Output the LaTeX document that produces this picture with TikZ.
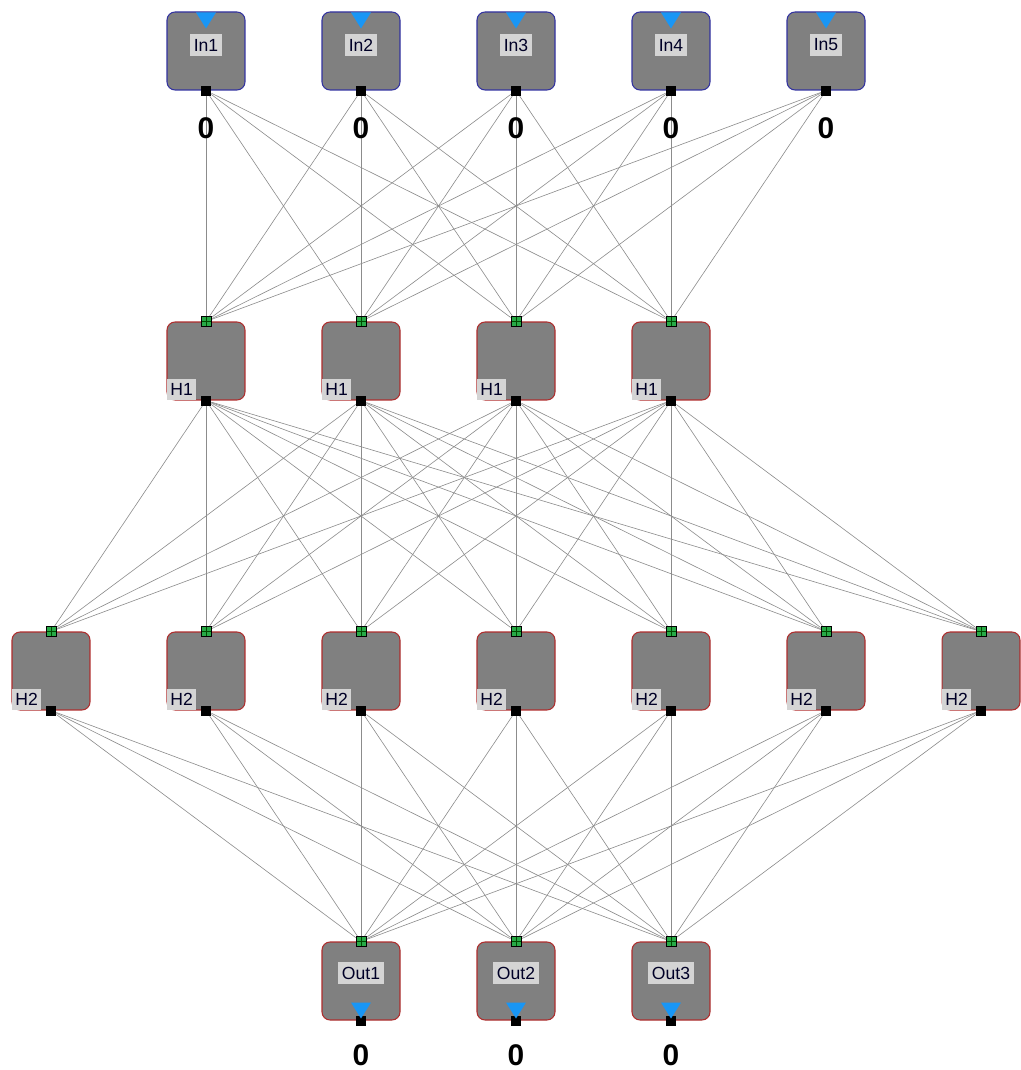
\documentclass[tikz,border=0pt]{standalone}
\usepackage{fontspec}
\setmainfont{Liberation Sans}
\usetikzlibrary{backgrounds}
\definecolor{boxgray}{RGB}{128,128,128}
\definecolor{inblue}{RGB}{50,50,160}
\definecolor{hidred}{RGB}{175,45,45}
\definecolor{tipblue}{RGB}{25,150,245}
\definecolor{tagbg}{RGB}{212,212,212}
\definecolor{portgreen}{RGB}{40,170,70}

\tikzset{
  unit/.style={draw=#1, line width=0.6pt, fill=boxgray, rounded corners=0.16cm,
    minimum size=1.56cm, inner sep=0pt},
  outport/.style={fill=black, minimum size=0.2cm, inner sep=0pt},
  inport/.style={draw=black, fill=portgreen, minimum size=0.2cm, inner sep=0pt,
    path picture={\draw[green!30!black, line width=0.5pt]
      (path picture bounding box.north) -- (path picture bounding box.south)
      (path picture bounding box.west) -- (path picture bounding box.east);}},
  tag/.style={fill=tagbg, text=black!85!blue, font=\fontsize{10}{11}\selectfont,
    inner xsep=2pt, inner ysep=2.6pt},
  value/.style={font=\fontsize{17}{18}\selectfont\bfseries},
  wire/.style={draw=black!45, line width=0.35pt},
  tip/.style={fill=tipblue}
}

\begin{document}
\begin{tikzpicture}[x=0.02cm, y=-0.02cm]
\useasboundingbox (0,0) rectangle (1020,1070);

% inputs
\foreach \i in {1,...,5} {
  \node[unit=inblue] (in\i) at (51+\i*155, 51) {};
  \fill[tip] (in\i.north) ++(-10,1) -- ++(20,0) -- ++(-10,16) -- cycle;
  \node[tag] at (51+\i*155, 45) {In\i};
  \node[outport] (ip\i) at (in\i.south) {};
  \node[value] at (51+\i*155, 128) {0};
}

% first hidden layer
\foreach \j in {1,...,4} {
  \node[unit=hidred] (ha\j) at (51+\j*155, 361) {};
  \node[tag, anchor=south west] at (ha\j.south west) {H1};
  \node[inport] (hat\j) at (ha\j.north) {};
  \node[outport] (hab\j) at (ha\j.south) {};
}

% second hidden layer
\foreach \k in {1,...,7} {
  \node[unit=hidred] (hb\k) at (\k*155-104, 671) {};
  \node[tag, anchor=south west] at (hb\k.south west) {H2};
  \node[inport] (hbt\k) at (hb\k.north) {};
  \node[outport] (hbb\k) at (hb\k.south) {};
}

% outputs
\foreach \m in {1,...,3} {
  \node[unit=hidred] (out\m) at (206+\m*155, 981) {};
  \node[tag] at (206+\m*155, 973) {Out\m};
  \node[inport] (ot\m) at (out\m.north) {};
  \node[outport] (ob\m) at (out\m.south) {};
  \fill[tip] (out\m.south) ++(-10,-18) -- ++(20,0) -- ++(-10,16) -- cycle;
  \node[value] at (206+\m*155, 1055) {0};
}

% connections
\begin{scope}[on background layer]
\foreach \i in {1,...,5}
  \foreach \j in {1,...,4}
    \draw[wire] (ip\i) -- (hat\j);
\foreach \j in {1,...,4}
  \foreach \k in {1,...,7}
    \draw[wire] (hab\j) -- (hbt\k);
\foreach \k in {1,...,7}
  \foreach \m in {1,...,3}
    \draw[wire] (hbb\k) -- (ot\m);
\end{scope}

\end{tikzpicture}
\end{document}
